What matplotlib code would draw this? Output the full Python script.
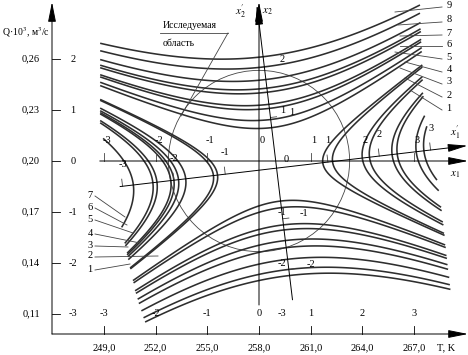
"""Response surface contours (saddle) with rotated canonical axes."""

import numpy as np
import matplotlib.pyplot as plt
from matplotlib.patches import Ellipse
from matplotlib.path import Path

plt.rcParams['font.family'] = ['Liberation Serif', 'DejaVu Serif']
plt.rcParams['mathtext.fontset'] = 'stix'

# natural scales
T_LABELS = ["249,0", "252,0", "255,0", "258,0", "261,0", "264,0", "267,0"]
Q_LABELS = ["0,11", "0,14", "0,17", "0,20", "0,23", "0,26"]
X_CODES = [-3, -2, -1, 0, 1, 2, 3]
Y_CODES = [-3, -2, -1, 0, 1, 2]

# canonical (rotated) frame, coded units
CENTRE = (0.34, -0.14)
ANGLE = 6.8  # degrees
SHAPE = 3.0  # Y = B11*x1'^2 + B22*x2'^2, B22/B11 = -SHAPE

# vertex distances of each contour family along the rotated axes
TOP_VERTEX = [0.80, 0.96, 1.18, 1.26, 1.50, 1.58, 1.75, 2.00, 2.20]
BOTTOM_VERTEX = [0.65, 0.78, 1.12, 1.22, 1.43, 1.57, 1.80, 2.00, 2.12]
LEFT_VERTEX = [1.15, 1.23, 1.77, 1.91, 2.00, 2.06, 2.33, 2.41, 2.79]
RIGHT_VERTEX = [0.90, 1.09, 1.67, 1.81, 2.25, 2.35, 2.72, 2.87]

# outline of the drawn field (picture pixels)
FIELD = [(100, 0), (100, 125), (127, 255), (135, 292), (150, 338),
         (452, 338), (452, 300), (440, 195), (424, 110), (420, 0)]

STUDY_RADIUS = 1.76

RIGHT_NUMBERS = ["9", "8", "7", "6", "5", "4", "3", "2", "1"]
LEFT_NUMBERS = ["7", "6", "5", "4", "3", "2", "1"]

LINE = '#2e2e2e'
THIN = '#444444'


def px(x, y):
    """picture pixel -> coded units"""
    return (x - 259) / 51.7, (161 - y) / 51.0


def to_xy(u, v):
    a = np.radians(ANGLE)
    return (CENTRE[0] + u * np.cos(a) - v * np.sin(a),
            CENTRE[1] + u * np.sin(a) + v * np.cos(a))


def arrow(ax, p0, p1, lw=0.7):
    ax.annotate('', xy=p1, xytext=p0,
                arrowprops=dict(arrowstyle='-|>,head_length=1.1,head_width=0.22',
                                lw=lw, color='k', mutation_scale=11,
                                shrinkA=0, shrinkB=0))


def main() -> None:
    fig = plt.figure(figsize=(4.68, 3.55), dpi=100)
    ax = fig.add_axes([0, 0, 1, 1])
    x0, y0 = px(0, 355)
    x1, y1 = px(468, 0)
    ax.set_xlim(x0, x1)
    ax.set_ylim(y0, y1)
    ax.axis('off')

    X, Y = np.meshgrid(np.linspace(x0, x1, 800), np.linspace(y0, y1, 650))
    a = np.radians(ANGLE)
    U = (X - CENTRE[0]) * np.cos(a) + (Y - CENTRE[1]) * np.sin(a)
    V = -(X - CENTRE[0]) * np.sin(a) + (Y - CENTRE[1]) * np.cos(a)
    F = U ** 2 - SHAPE * V ** 2

    field = Path([px(*p) for p in FIELD])
    outside = ~field.contains_points(np.c_[X.ravel(), Y.ravel()]).reshape(X.shape)

    def draw(mask, levels):
        Fm = np.ma.masked_where(mask | outside, F)
        ax.contour(X, Y, Fm, levels=sorted(levels), colors=LINE,
                   linewidths=1.15, linestyles='solid')

    draw(V < 0, -SHAPE * np.square(TOP_VERTEX))
    draw(V > 0, -SHAPE * np.square(BOTTOM_VERTEX))
    draw(U > 0, np.square(LEFT_VERTEX))
    draw(U < 0, np.square(RIGHT_VERTEX))

    # study region
    ax.add_patch(Ellipse((0, 0), 2 * STUDY_RADIUS * 51.5 / 51.7,
                         2 * STUDY_RADIUS * 51.5 / 51.0, fill=False,
                         lw=0.6, color=THIN))
    ax.plot(*zip(px(160, 33), px(228, 33)), color=THIN, lw=0.6)
    ax.plot(*zip(px(228, 33), px(181, 116)), color=THIN, lw=0.6)
    ax.text(*px(163, 25), "Исследуемая", fontsize=7, va='center')
    ax.text(*px(163, 43), "область", fontsize=7, va='center')

    # natural axes
    xa = px(52, 0)[0]
    ya = px(0, 334)[1]
    arrow(ax, (xa, ya), (xa, px(0, 2)[1]))
    arrow(ax, (xa, ya), (px(468, 0)[0], ya))
    for c, lab in zip(Y_CODES, Q_LABELS):
        ax.plot([xa, xa + 0.16], [c, c], color='k', lw=0.6)
        ax.text(px(40, 0)[0], c, lab, fontsize=7.5, ha='right', va='center')
        ax.text(px(73, 0)[0], c, str(c), fontsize=7.5, ha='center', va='center')
    for c, lab in zip(X_CODES, T_LABELS):
        ax.plot([c, c], [ya, ya + 0.15], color='k', lw=0.6)
        ax.text(c, px(0, 348)[1], lab, fontsize=7.5, ha='center', va='center')
        ax.text(c, px(0, 314)[1], str(c), fontsize=7.5, ha='center', va='center')
    ax.text(*px(437, 348), "T, K", fontsize=7.5, va='center')
    ax.text(*px(2, 33), "Q·10$^3$, м$^3$/с", fontsize=7, va='center')

    # coded axes x1, x2
    arrow(ax, (-3.08, 0), (px(468, 0)[0], 0))
    arrow(ax, (0, px(0, 305)[1]), (0, px(0, 2)[1]))
    for c in X_CODES:
        if c != 0:
            ax.plot([c, c], [0, 0.15], color=THIN, lw=0.6)
        ax.text(c + 0.06, 0.4, str(c), fontsize=7.5, ha='center', va='center')
    for c in Y_CODES:
        if c != 0:
            ax.text(0.45, c, str(c), fontsize=7.5, ha='center', va='center')
    ax.text(*px(455, 175), "$x_1$", fontsize=8, ha='center', va='center')
    ax.text(*px(267, 12), "$x_2$", fontsize=8, ha='center', va='center')

    # rotated axes x1', x2'
    arrow(ax, to_xy(-3.05, 0), to_xy(3.72, 0))
    arrow(ax, to_xy(0, -2.6), to_xy(0, 3.22))
    for c in X_CODES:
        p = to_xy(c, 0)
        q = to_xy(c, 0.14)
        if c != 0:
            ax.plot([p[0], q[0]], [p[1], q[1]], color=THIN, lw=0.6)
            t = to_xy(c, 0.42)
        else:
            t = to_xy(0.15, 0.15)
        ax.text(t[0] + 0.05, t[1], str(c), fontsize=7.5, ha='center', va='center')
    for c in [-2, -1, 1]:
        p = to_xy(0, c)
        q = to_xy(0.12, c)
        ax.plot([p[0], q[0]], [p[1], q[1]], color=THIN, lw=0.6)
        ax.text(p[0] + 0.42, p[1] + 0.1, str(c), fontsize=7.5, ha='center', va='center')
    ax.text(*px(455, 133), "$x_1'$", fontsize=8, ha='center', va='center')
    ax.text(*px(240, 12), "$x_2'$", fontsize=8, ha='center', va='center')

    # curve numbers
    right_y = [5, 20, 33, 44, 57, 70, 82, 95, 108]
    right_end = [(395, 12), (398, 25), (400, 36), (400, 46), (395, 52),
                 (405, 62), (400, 68), (405, 78), (410, 90)]
    for lab, yy, e in zip(RIGHT_NUMBERS, right_y, right_end):
        ax.text(*px(449, yy), lab, fontsize=7.5, ha='center', va='center')
        ax.plot(*zip(px(442, yy + 2), px(*e)), color=THIN, lw=0.6)
    left_y = [195, 207, 219, 233, 245, 256, 269]
    left_end = [(125, 217), (127, 225), (133, 233), (140, 243), (128, 247),
                (158, 256), (130, 264)]
    for lab, yy, e in zip(LEFT_NUMBERS, left_y, left_end):
        ax.text(*px(90, yy), lab, fontsize=7.5, ha='center', va='center')
        ax.plot(*zip(px(95, yy + 1), px(*e)), color=THIN, lw=0.6)

    fig.savefig("out.png", dpi=100)
    plt.close(fig)


if __name__ == "__main__":
    main()
